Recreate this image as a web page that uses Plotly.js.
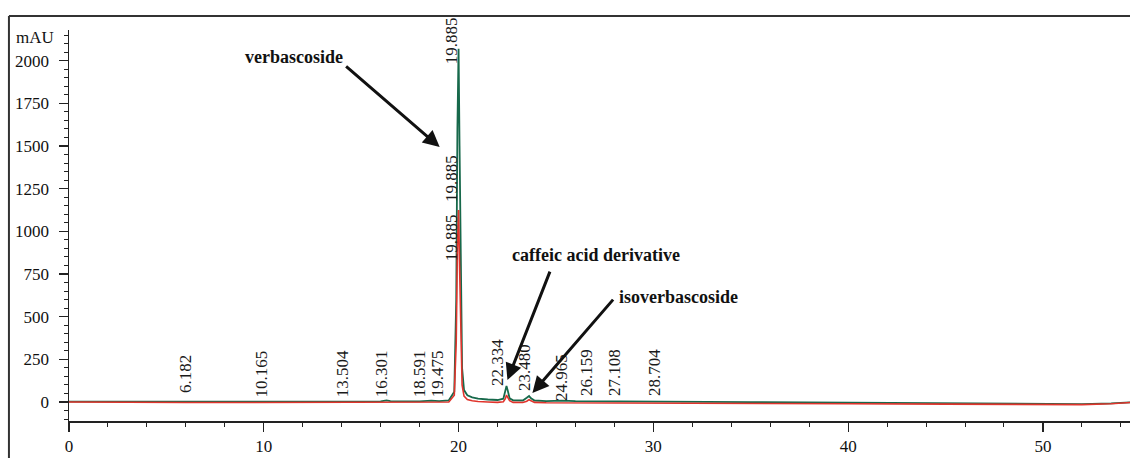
<!DOCTYPE html>
<html>
<head>
<meta charset="utf-8">
<script src="https://cdn.plot.ly/plotly-3.0.1.min.js"></script>
<style>html,body{margin:0;padding:0;background:#fff;}#chart{width:1130px;height:458px;}</style>
</head>
<body>
<div id="chart"></div>
<script>
// Retention time (min) and absorbance (mAU)
var greenTime = [0, 2, 4, 6.0, 6.2, 6.4, 8, 10, 12, 14, 16.0, 16.3, 16.5, 18, 18.6, 19.0, 19.5, 19.78, 19.88, 19.94, 20.0, 20.05, 20.11, 20.18, 20.28, 20.45, 20.7, 21.0, 21.5, 22.0, 22.3, 22.4, 22.46, 22.52, 22.62, 22.8, 23.3, 23.5, 23.62, 23.72, 23.9, 24.5, 25.3, 26, 27, 28, 30, 35, 40, 45, 50, 52, 53.5, 54.5];
var greenAbs  = [2, 3, 2, 3, 6, 3, 2, 3, 2, 3, 4, 10, 5, 4, 8, 6, 10, 60, 600, 1600, 2070, 1500, 700, 200, 70, 40, 28, 20, 15, 12, 20, 60, 94, 70, 22, 10, 9, 25, 35, 22, 9, 6, 8, 5, 4, 3, 2, 0, -3, -5, -10, -12, -8, -2];
var redTime = [0, 2, 4, 6, 8, 10, 12, 14, 16, 18, 19.0, 19.5, 19.78, 19.88, 19.94, 20.0, 20.05, 20.11, 20.18, 20.28, 20.45, 20.7, 21.0, 21.5, 22.0, 22.3, 22.4, 22.46, 22.52, 22.62, 22.8, 23.3, 23.5, 23.62, 23.72, 23.9, 24.5, 26, 28, 30, 35, 40, 45, 50, 52, 53.5, 54.5];
var redAbs  = [0, -2, -3, -3, -3, -3, -4, -4, -4, -4, -4, 0, 40, 350, 900, 1125, 800, 350, 100, 35, 15, 8, 3, 0, -2, 2, 20, 41, 30, 8, -2, -3, 5, 14, 8, -2, -4, -5, -5, -6, -8, -10, -12, -15, -15, -10, -2];

// Peak retention-time labels: text, where they sit (min, mAU at text foot)
var rtLabels = ['6.182', '10.165', '13.504', '16.301', '18.591', '19.475', '22.334', '23.480', '24.965', '26.159', '27.108', '28.704', '19.885', '19.885', '19.885'];
var rtLabelX = [5.95, 9.9, 14.05, 16.05, 18.0, 18.92, 22.0, 23.38, 25.28, 26.56, 28.0, 30.05, 19.64, 19.64, 19.64];
var rtLabelY = [47, 23, 23, 23, 23, 23, 88, 59, 0, 29, 29, 29, 1974, 1166, 820];

// Compound names with arrow heads (min, mAU) and label centres
var compounds = ['verbascoside', 'caffeic acid derivative', 'isoverbascoside'];
var compoundTextX = [11.55, 27.08, 31.28];
var compoundTextY = [2021, 861, 615];
var arrowHeadX = [19.03, 22.51, 23.79];
var arrowHeadY = [1494, 129, 53];
var arrowTailX = [14.15, 24.72, 28.0];
var arrowTailY = [1974, 773, 609];

var serif = '"Liberation Serif", "Times New Roman", Times, serif';

var traces = [
  {x: greenTime, y: greenAbs, type: 'scatter', mode: 'lines', line: {color: '#17694b', width: 1.8}, hoverinfo: 'skip'},
  {x: redTime, y: redAbs, type: 'scatter', mode: 'lines', line: {color: '#e0342c', width: 1.6}, hoverinfo: 'skip'}
];

var annotations = [];
for (var i = 0; i < rtLabels.length; i++) {
  annotations.push({x: rtLabelX[i], y: rtLabelY[i], xref: 'x', yref: 'y', text: rtLabels[i], textangle: -90,
    showarrow: false, xanchor: 'center', yanchor: 'bottom', borderpad: 0,
    font: {family: serif, size: 17, color: '#1a1a1a'}});
}
for (var j = 0; j < compounds.length; j++) {
  annotations.push({x: compoundTextX[j], y: compoundTextY[j], xref: 'x', yref: 'y', text: '<b>' + compounds[j] + '</b>',
    showarrow: false, xanchor: 'center', yanchor: 'middle', font: {family: serif, size: 18, color: '#111'}});
  annotations.push({x: arrowHeadX[j], y: arrowHeadY[j], xref: 'x', yref: 'y', ax: arrowTailX[j], ay: arrowTailY[j],
    axref: 'x', ayref: 'y', text: '', showarrow: true, arrowhead: 2, arrowsize: 1.1, arrowwidth: 3, arrowcolor: '#111'});
}
annotations.push({x: -0.032, y: 0.982, xref: 'paper', yref: 'paper', text: 'mAU', showarrow: false,
  xanchor: 'center', yanchor: 'middle', font: {family: serif, size: 17, color: '#111'}});

var layout = {
  width: 1130, height: 458,
  margin: {l: 69, r: 0, t: 30, b: 37, pad: 0},
  paper_bgcolor: '#fff', plot_bgcolor: '#fff',
  showlegend: false,
  font: {family: serif},
  xaxis: {range: [0, 54.47], showline: true, linecolor: '#222', linewidth: 1.5, mirror: false,
    showgrid: false, zeroline: false, ticks: 'outside', ticklen: 9, tickwidth: 1.2, tickcolor: '#222',
    tick0: 0, dtick: 10, ticklabelstandoff: 0,
    minor: {dtick: 2, ticks: 'outside', ticklen: 4, tickwidth: 1, tickcolor: '#222', showgrid: false},
    tickfont: {family: serif, size: 17, color: '#111'}},
  yaxis: {range: [-111, 2180], showline: true, linecolor: '#222', linewidth: 1.5,
    showgrid: false, zeroline: false, ticks: 'outside', ticklen: 9, tickwidth: 1.2, tickcolor: '#222',
    tick0: 0, dtick: 250, ticklabelstandoff: 6,
    minor: {dtick: 50, ticks: 'outside', ticklen: 4, tickwidth: 1, tickcolor: '#222', showgrid: false},
    tickfont: {family: serif, size: 17, color: '#111'}},
  annotations: annotations,
  shapes: [
    {type: 'line', xref: 'paper', yref: 'paper', x0: -0.0566, x1: 1, y0: 1.0358, y1: 1.0358, line: {color: '#333', width: 2}},
    {type: 'line', xref: 'paper', yref: 'paper', x0: -0.0566, x1: -0.0566, y0: 1.0358, y1: -0.1, line: {color: '#333', width: 2}}
  ]
};

Plotly.newPlot('chart', traces, layout, {staticPlot: true, displayModeBar: false});
</script>
</body>
</html>
